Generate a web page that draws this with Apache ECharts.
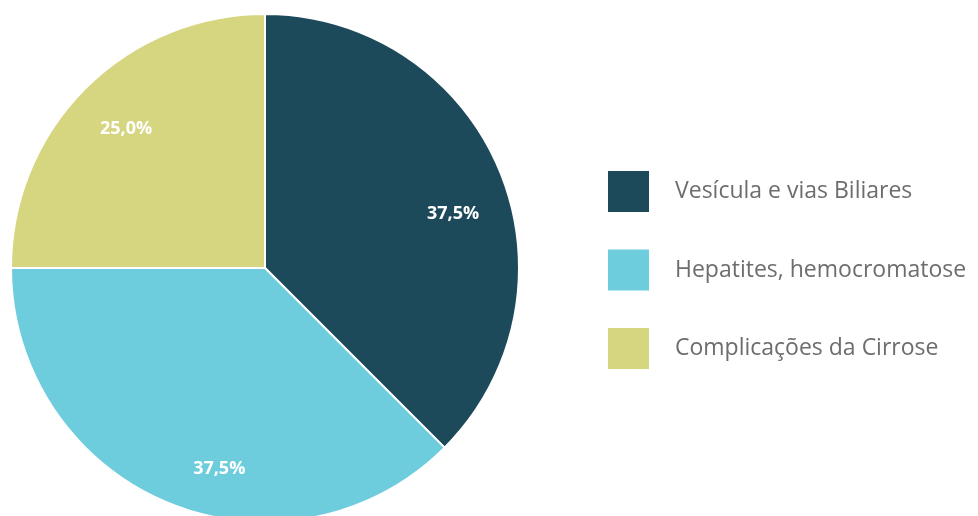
<!DOCTYPE html>
<html>
<head>
<meta charset="utf-8">
<script src="https://cdn.jsdelivr.net/npm/echarts@6/dist/echarts.min.js"></script>
<style>
  html, body { margin: 0; padding: 0; background: #fff; }
  #chart { width: 978px; height: 516px; }
</style>
</head>
<body>
<div id="chart"></div>
<script>
// categorias e valores (%)
var categorias = ['Vesícula e vias Biliares', 'Hepatites, hemocromatose', 'Complicações da Cirrose'];
var valores = [37.5, 37.5, 25.0];
var cores = ['#1c4a5b', '#6ecddd', '#d6d580'];

var chartDom = document.getElementById('chart');
var myChart = echarts.init(chartDom);

// deslocamento dos rótulos (estilo, como no Excel)
var offsets = [[68, -4], [4, 81], [-47, -47]];

var option = {
    animation: false,
    color: cores,
    legend: {
        orient: 'vertical',
        left: 608,
        top: 171,
        padding: 0,
        itemWidth: 41,
        itemHeight: 41,
        itemGap: 37.5,
        icon: 'rect',
        itemStyle: { borderWidth: 0 },
        textStyle: {
            fontFamily: 'Open Sans',
            fontSize: 23,
            color: '#6d6d6d',
            padding: [3, 0, 0, 21]
        },
        data: categorias
    },
    series: [
        {
            type: 'pie',
            center: [265, 268],
            radius: [0, 254],
            startAngle: 90,
            clockwise: true,
            itemStyle: { borderColor: '#fff', borderWidth: 2 },
            label: {
                position: 'inside',
                color: '#fff',
                fontFamily: 'Open Sans',
                fontWeight: 'bold',
                fontSize: 18,
                formatter: function (p) {
                    return p.value.toFixed(1).replace('.', ',') + '%';
                }
            },
            labelLine: { show: false },
            emphasis: { disabled: true },
            data: categorias.map(function (c, i) {
                return { name: c, value: valores[i], label: { offset: offsets[i] } };
            })
        }
    ]
};

option && myChart.setOption(option);
</script>
</body>
</html>
